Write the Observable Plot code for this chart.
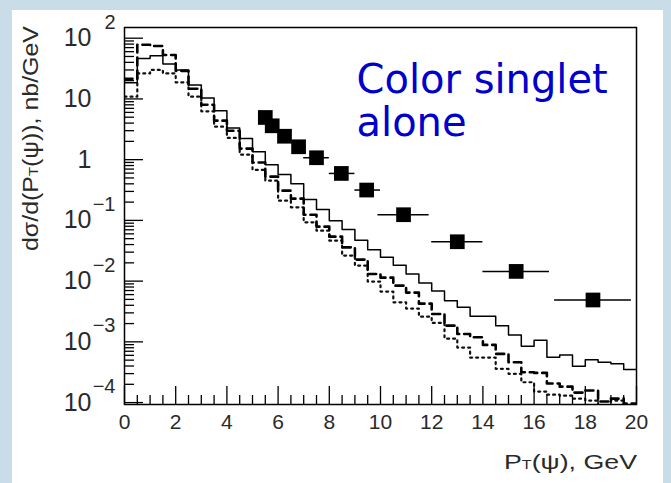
<!DOCTYPE html>
<html>
<head>
<meta charset="utf-8">
<script src="https://cdn.jsdelivr.net/npm/d3@7"></script>
<script src="https://cdn.jsdelivr.net/npm/@observablehq/plot@0.6"></script>
<style>
  html, body { margin: 0; padding: 0; }
  body { width: 671px; height: 483px; background: #c9dde8; position: relative; overflow: hidden; }
  #sheet { position: absolute; left: 12px; top: 10px; width: 651px; height: 473px; background: #fff; }
  #chart { position: absolute; left: 0; top: 0; }
</style>
</head>
<body>
<div id="sheet"></div>
<div id="chart"></div>
<script>
// Lower edges of the 0.5 GeV transverse-momentum bins, 0..20 GeV
const binWidth = 0.5;
const ptEdges = d3.range(0, 20, binWidth);

// Model histograms, dσ/dP_T in nb/GeV per bin
const solidHist = [18.5, 46.5, 51.5, 37.6, 30.0, 17.0, 10.4, 6.41, 3.32, 2.22,
  1.35, 0.827, 0.571, 0.403, 0.221, 0.151, 0.0991, 0.0710, 0.0473, 0.0328,
  0.0248, 0.0183, 0.0131, 0.00927, 0.00690, 0.00474, 0.00371, 0.00263, 0.00263, 0.00185,
  0.00130, 0.000845, 0.00106, 0.000557, 0.000610, 0.000396, 0.000505, 0.000461, 0.000434, 0.000349];
const dashedHist = [21.5, 78.2, 74.4, 52.9, 29.0, 14.7, 8.04, 4.39, 3.0, 1.52,
  0.899, 0.525, 0.309, 0.228, 0.124, 0.0789, 0.054, 0.036, 0.0226, 0.0131,
  0.0114, 0.00843, 0.00647, 0.00426, 0.00288, 0.00185, 0.00135, 0.00119, 0.000891, 0.000633,
  0.000461, 0.000315, 0.000308, 0.000206, 0.000183, 0.000146, 0.000158, 0.000104, 0.000116, 0.0000964];
const dottedHist = [10.9, 26.3, 30.0, 26.3, 18.7, 10.9, 6.24, 3.49, 2.28, 1.21,
  0.677, 0.451, 0.211, 0.164, 0.0929, 0.0678, 0.0464, 0.0263, 0.018, 0.00982,
  0.00672, 0.00448, 0.00353, 0.0026, 0.00205, 0.00113, 0.000804, 0.00055, 0.00055, 0.000359,
  0.000297, 0.000216, 0.000152, 0.000135, 0.00013, 0.000116, 0.000108, 0.00008, 0.000108, 0.00007];

// Measured points with their P_T bin extent
const dataPt     = [5.5, 5.77, 6.25, 6.8, 7.5, 8.47, 9.46, 10.9, 13.0, 15.3, 18.3];
const dataPtLow  = [5.5, 5.77, 6.25, 6.8, 7.0, 8.0, 9.0, 9.9, 12.0, 14.0, 16.8];
const dataPtHigh = [5.5, 5.77, 6.25, 6.8, 8.0, 9.0, 10.0, 11.9, 14.0, 16.6, 19.8];
const dataSigma  = [4.95, 3.61, 2.43, 1.63, 1.075, 0.593, 0.316, 0.124, 0.0445, 0.01445, 0.00489];

// Axis ticks
const xLabels = [0, 2, 4, 6, 8, 10, 12, 14, 16, 18, 20];
const xMinor = d3.range(0, 20.001, 0.5).filter(v => v % 2 !== 0);
const yDecades = [1e-4, 1e-3, 1e-2, 1e-1, 1, 10, 100];
const yExponents = [-4, -3, -2, -1, 0, 1, 2];
const yMinor = yDecades.slice(0, -1).flatMap(d => [2, 3, 4, 5, 6, 7, 8, 9].map(m => m * d));

const W = 671, H = 483, mL = 124, mR = 35, mT = 27, mB = 79;
const frameW = W - mL - mR, frameH = H - mT - mB;

function steps(values) {
  const rows = ptEdges.map((x, i) => ({x, y: values[i]}));
  rows.push({x: 20, y: values[values.length - 1]});
  return rows;
}

const points = dataPt.map((x, i) => ({x, y: dataSigma[i], x1: dataPtLow[i], x2: dataPtHigh[i]}));
const expLabels = yDecades.map((d, i) => ({d, e: yExponents[i]})).filter(r => r.e !== 0 && r.e !== 1);

const font = "'Liberation Sans', Arial, sans-serif";
const ink = "#2a2a2a";

const chart = Plot.plot({
  width: W, height: H,
  marginLeft: mL, marginRight: mR, marginTop: mT, marginBottom: mB,
  style: {background: "transparent", fontFamily: font, color: ink},
  x: {domain: [0, 20]},
  y: {type: "log", domain: [9.3e-5, 150]},
  marks: [
    Plot.line(steps(dottedHist), {x: "x", y: "y", curve: "step-after", stroke: "#111", strokeWidth: 2.2, strokeDasharray: "2,4", clip: true}),
    Plot.line(steps(dashedHist), {x: "x", y: "y", curve: "step-after", stroke: "#000", strokeWidth: 2.6, strokeDasharray: "8,5", clip: true}),
    Plot.line(steps(solidHist), {x: "x", y: "y", curve: "step-after", stroke: "#000", strokeWidth: 1.5, clip: true}),
    Plot.ruleY(points, {y: "y", x1: "x1", x2: "x2", stroke: "#000", strokeWidth: 1.5}),
    Plot.dot(points, {x: "x", y: "y", symbol: "square", r: 8.3, fill: "#000", stroke: "none"}),
    // inward ticks
    Plot.ruleX(xLabels, {insetTop: frameH - 18, stroke: "#000", strokeWidth: 1.3}),
    Plot.ruleX(xMinor, {insetTop: frameH - 9, stroke: "#000", strokeWidth: 1.3}),
    Plot.ruleY(yDecades, {insetRight: frameW - 19, stroke: "#000", strokeWidth: 1.3}),
    Plot.ruleY(yMinor, {insetRight: frameW - 10, stroke: "#000", strokeWidth: 1.3}),
    Plot.axisX({ticks: xLabels, tickSize: 0, tickPadding: 10, fontSize: 21, label: null}),
    Plot.axisY({ticks: yDecades, tickSize: 0, tickPadding: 33, fontSize: 25, label: null,
      tickFormat: d => (d === 1 ? "1" : "10")}),
    Plot.text(expLabels, {y: "d", text: r => (r.e < 0 ? "\u2212" + (-r.e) : String(r.e)),
      frameAnchor: "left", dx: -9, dy: -16, textAnchor: "end", fontSize: 20, fill: ink}),
    Plot.text(["Color singlet\nalone"], {frameAnchor: "top-left", dx: 232, dy: 35, textAnchor: "start",
      lineAnchor: "top", lineHeight: 1.08, fontSize: 40, fill: "#0000cc", fontFamily: "'DejaVu Sans', sans-serif"}),
    Plot.frame({stroke: "#000", strokeWidth: 1.5})
  ]
});

// Axis titles with the subscript T of P_T
const svg = d3.select(chart);
const yTitle = svg.append("text")
  .attr("transform", "translate(38,251) rotate(-90)")
  .attr("text-anchor", "start")
  .attr("font-family", font).attr("font-size", 22).attr("fill", ink)
  .attr("textLength", 225).attr("lengthAdjust", "spacingAndGlyphs");
yTitle.append("tspan").text("d\u03c3/d(P");
yTitle.append("tspan").attr("font-size", 13).text("T");
yTitle.append("tspan").text("(\u03c8)), nb/GeV");

const xTitle = svg.append("text")
  .attr("x", 504).attr("y", 469)
  .attr("text-anchor", "start")
  .attr("font-family", font).attr("font-size", 20).attr("fill", ink)
  .attr("textLength", 133).attr("lengthAdjust", "spacingAndGlyphs");
xTitle.append("tspan").text("P");
xTitle.append("tspan").attr("font-size", 12).text("T");
xTitle.append("tspan").text("(\u03c8), GeV");

document.getElementById("chart").append(chart);
</script>
</body>
</html>
